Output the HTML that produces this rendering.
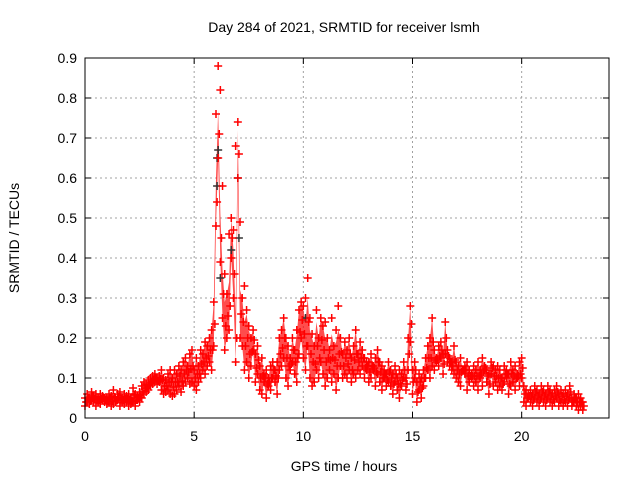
<!DOCTYPE html>
<html><head><meta charset="utf-8"><style>
body{margin:0;background:#fff}
svg{display:block;font-family:"Liberation Sans",sans-serif}
</style></head><body>
<svg id="chart" width="640" height="480">
<text x="344" y="32" text-anchor="middle" font-size="14">Day 284 of 2021, SRMTID for receiver lsmh</text>
<text x="344" y="471" text-anchor="middle" font-size="14">GPS time / hours</text>
<text transform="translate(19,238) rotate(-90)" text-anchor="middle" font-size="14">SRMTID / TECUs</text>
<g id="grid"></g>
<g id="ticks"></g>
<g id="band"></g>
<g id="marks"></g>
<rect x="85" y="58" width="524" height="360" fill="none" stroke="#000" stroke-width="1"/>
</svg>
<script>
const xTicks=[0,5,10,15,20];
const yTicks=[0,0.1,0.2,0.3,0.4,0.5,0.6,0.7,0.8,0.9];
const tStart=0, tStep=0.1;
const lowVals=[.03,.04,.035,.045,.04,.03,.04,.035,.045,.04,
.035,.04,.03,.035,.04,.045,.03,.04,.035,.04,
.03,.035,.04,.03,.045,.04,.05,.06,.065,.07,
.08,.085,.09,.085,.09,.07,.06,.065,.07,.06,
.055,.06,.07,.08,.065,.08,.09,.1,.085,.09,
.08,.07,.09,.1,.12,.11,.13,.14,.12,.18,
.48,.65,.39,.25,.17,.2,.22,.4,.3,.14,
.6,.2,.18,.12,.14,.1,.13,.17,.09,.11,
.07,.06,.09,.05,.08,.07,.1,.09,.06,.12,
.13,.15,.1,.08,.12,.14,.11,.09,.16,.2,
.15,.12,.18,.1,.08,.09,.12,.1,.14,.11,
.08,.1,.12,.09,.11,.07,.1,.13,.1,.11,
.1,.12,.09,.11,.1,.12,.11,.13,.1,.12,
.09,.1,.12,.08,.11,.09,.07,.1,.08,.09,
.08,.06,.09,.07,.05,.08,.1,.07,.12,.19,
.06,.1,.04,.07,.05,.08,.1,.12,.1,.13,
.12,.14,.13,.15,.11,.16,.14,.13,.12,.11,
.1,.09,.08,.12,.11,.07,.09,.1,.08,.09,
.07,.1,.08,.12,.09,.06,.11,.08,.09,.07,
.08,.07,.09,.1,.06,.08,.09,.07,.1,.08,
.1,.04,.03,.05,.04,.03,.05,.04,.03,.05,
.04,.03,.05,.04,.03,.04,.05,.03,.04,.03,
.04,.03,.05,.03,.04,.03,.02,.03,.02];
const highVals=[.05,.06,.05,.065,.055,.06,.05,.06,.055,.05,
.05,.06,.055,.07,.05,.06,.065,.05,.06,.055,
.06,.05,.075,.06,.055,.065,.08,.09,.085,.095,
.1,.105,.11,.1,.105,.12,.1,.095,.11,.12,
.1,.12,.11,.13,.12,.14,.15,.13,.16,.17,
.12,.15,.13,.17,.16,.19,.18,.2,.22,.29,
.76,.88,.82,.58,.36,.31,.46,.5,.47,.68,
.74,.49,.3,.33,.27,.23,.2,.22,.16,.18,
.13,.15,.11,.12,.1,.13,.14,.12,.14,.2,
.22,.25,.2,.18,.15,.2,.17,.22,.27,.29,
.28,.3,.35,.25,.21,.18,.27,.2,.25,.23,
.24,.2,.17,.25,.18,.22,.28,.2,.16,.19,
.17,.2,.15,.18,.22,.16,.19,.17,.15,.14,
.14,.16,.13,.15,.17,.14,.13,.12,.11,.14,
.12,.11,.13,.1,.12,.11,.14,.1,.2,.28,
.12,.14,.09,.11,.1,.12,.15,.18,.2,.25,
.17,.15,.18,.19,.16,.24,.17,.15,.14,.18,
.14,.13,.15,.12,.13,.14,.12,.11,.13,.12,
.14,.12,.15,.13,.12,.11,.14,.13,.12,.13,
.12,.1,.13,.12,.11,.14,.12,.13,.11,.14,
.15,.08,.07,.06,.07,.06,.08,.07,.06,.08,
.07,.06,.08,.07,.06,.07,.08,.06,.07,.06,
.07,.06,.08,.05,.06,.05,.06,.05,.04];
const blackT=[6.05,6.1,6.05,7.0,7.05,6.7,6.2,10.1];
const blackV=[.65,.67,.58,.6,.45,.42,.35,.25];

const X0=85,X1=609,Y0=418,Y1=58,XMAX=24,YMAX=0.9;
const sx=t=>X0+(X1-X0)*t/XMAX;
const sy=v=>Y0-(Y0-Y1)*v/YMAX;
const NS="http://www.w3.org/2000/svg";
function mk(tag,attrs,parent){const e=document.createElementNS(NS,tag);for(const k in attrs)e.setAttribute(k,attrs[k]);parent.appendChild(e);return e;}
const grid=document.getElementById('grid'),ticks=document.getElementById('ticks');
xTicks.forEach(t=>{
  const x=sx(t);
  if(t>0){const g=mk('line',{x1:x,y1:Y0,x2:x,y2:Y1,stroke:'#a0a0a0','stroke-dasharray':'2,3'},grid);
  
  }
  mk('line',{x1:x,y1:Y0,x2:x,y2:Y0-6,stroke:'#000'},ticks);
  mk('line',{x1:x,y1:Y1,x2:x,y2:Y1+6,stroke:'#000'},ticks);
  const l=mk('text',{x:x,y:Y0+23,'text-anchor':'middle','font-size':'14'},ticks);
  l.textContent=t;
  
  
});
yTicks.forEach(v=>{
  const y=sy(v);
  if(v>0&&v<0.9){const g=mk('line',{x1:X0,y1:y,x2:X1,y2:y,stroke:'#a0a0a0','stroke-dasharray':'2,3'},grid);
  
  }
  mk('line',{x1:X0,y1:y,x2:X0+6,y2:y,stroke:'#000'},ticks);
  mk('line',{x1:X1,y1:y,x2:X1-6,y2:y,stroke:'#000'},ticks);
  const l=mk('text',{x:X0-8,y:y+5,'text-anchor':'end','font-size':'14'},ticks);
  l.textContent=(v===0?'0':v.toFixed(1));
  
  
});
// density band between low and (capped) high values
let pts=[];
const capHigh=i=>Math.min(highVals[i],lowVals[i]+0.12);
for(let i=0;i<lowVals.length;i++)pts.push(sx(tStart+i*tStep)+','+sy(capHigh(i)));
for(let i=lowVals.length-1;i>=0;i--)pts.push(sx(tStart+i*tStep)+','+sy(lowVals[i]));
const band=mk('polygon',{points:pts.join(' '),fill:'#ff0000','fill-opacity':'0.7',stroke:'none'},document.getElementById('band'));


const marks=document.getElementById('marks');
function plus(x,y,c){
  const p=mk('path',{d:`M${x-4},${y}h8M${x},${y-4}v8`,stroke:c,'stroke-width':'1.5',fill:'none'},marks);
  
  
}
blackT.forEach((t,i)=>plus(sx(t),sy(blackV[i]),'#333'));
for(let i=0;i<lowVals.length;i++){
  const t=tStart+i*tStep;
  plus(sx(t),sy(lowVals[i]),'#ff0000');
  plus(sx(t),sy(highVals[i]),'#ff0000');
  plus(sx(t+0.05),sy((lowVals[i]+capHigh(i))/2),'#ff0000');
}
</script>
</body></html>
